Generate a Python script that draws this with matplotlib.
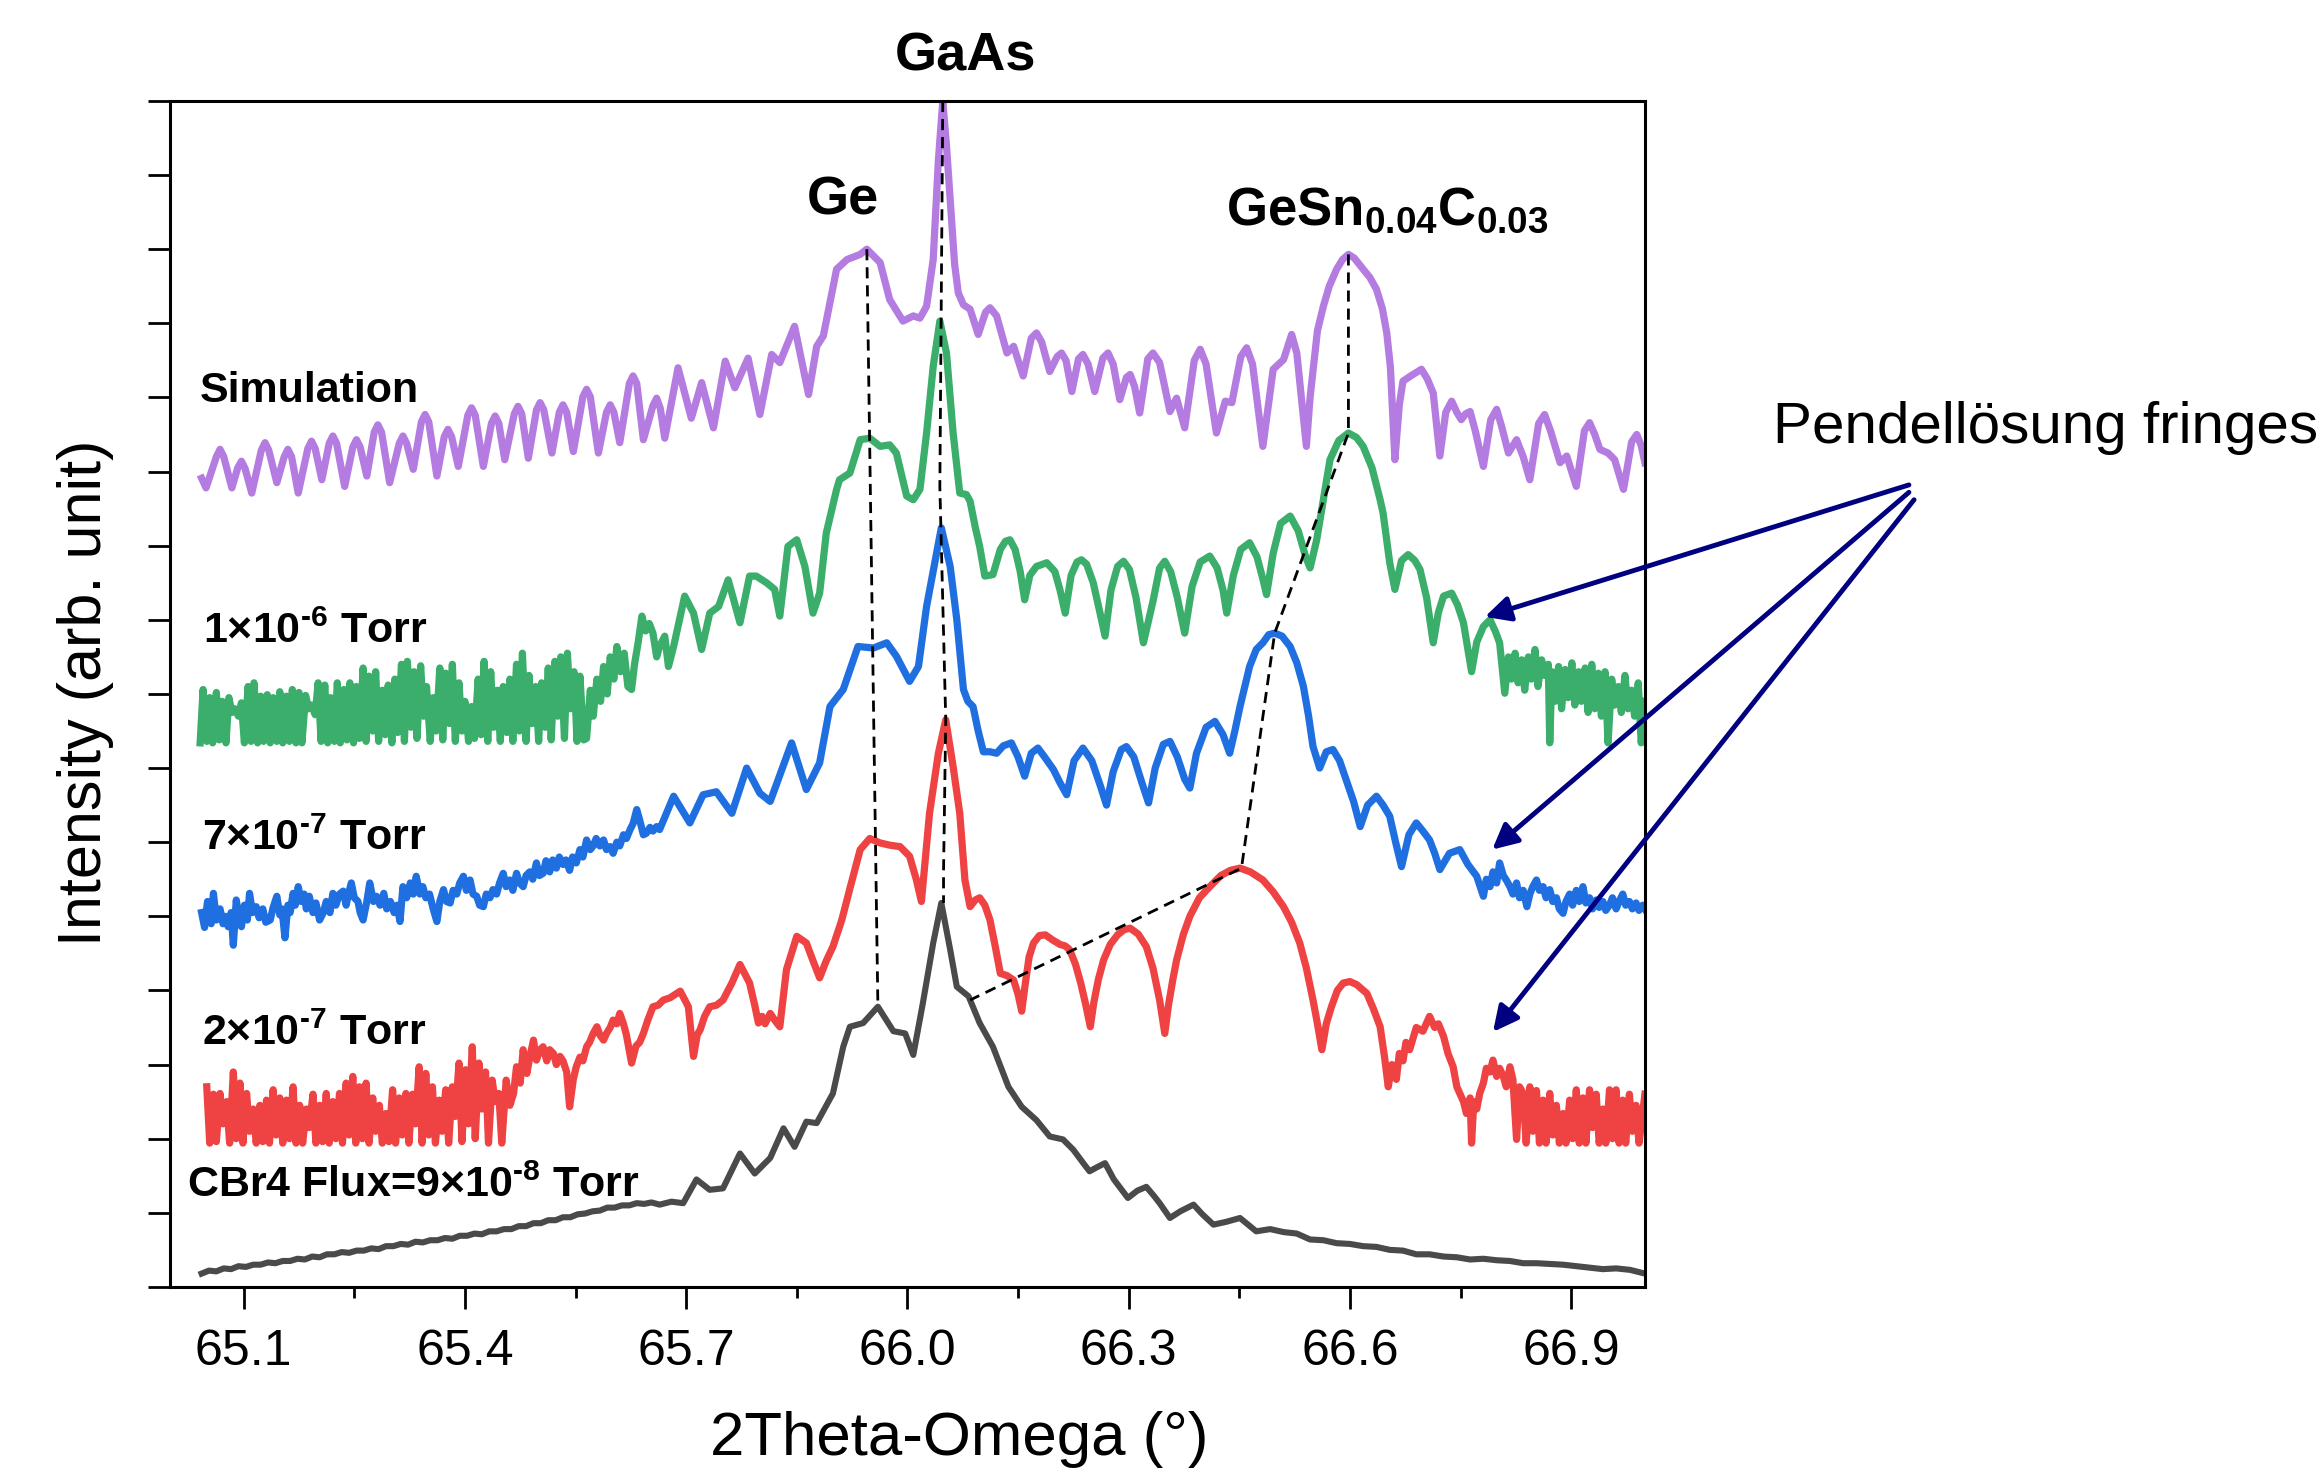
import matplotlib
matplotlib.use("Agg")
import matplotlib.pyplot as plt

plt.rcParams['font.family'] = ['Liberation Sans', 'DejaVu Sans']
plt.rcParams['mathtext.fontset'] = 'custom'
plt.rcParams['mathtext.rm'] = 'Liberation Sans'
plt.rcParams['mathtext.bf'] = 'Liberation Sans:bold'
plt.rcParams['mathtext.it'] = 'Liberation Sans:italic'

# simulation curve (purple)
sim_x = [65.043, 65.049, 65.063, 65.068, 65.073, 65.084, 65.092, 65.097, 65.102, 65.111,
         65.124, 65.129, 65.134, 65.145, 65.155, 65.160, 65.165, 65.174, 65.187, 65.192,
         65.197, 65.206, 65.216, 65.221, 65.226, 65.237, 65.248, 65.253, 65.258, 65.267,
         65.277, 65.282, 65.287, 65.298, 65.311, 65.316, 65.321, 65.330, 65.341, 65.346,
         65.351, 65.362, 65.372, 65.377, 65.382, 65.391, 65.404, 65.409, 65.414, 65.425,
         65.436, 65.441, 65.446, 65.454, 65.467, 65.472, 65.477, 65.486, 65.497, 65.502,
         65.507, 65.518, 65.528, 65.533, 65.538, 65.547, 65.560, 65.565, 65.570, 65.581,
         65.592, 65.597, 65.602, 65.610, 65.623, 65.628, 65.633, 65.642, 65.655, 65.660,
         65.665, 65.671, 65.689, 65.707, 65.721, 65.737, 65.753, 65.766, 65.784, 65.800,
         65.816, 65.827, 65.847, 65.866, 65.877, 65.886, 65.904, 65.918, 65.936, 65.945,
         65.963, 65.976, 65.994, 66.008, 66.017, 66.026, 66.035, 66.042, 66.048, 66.053,
         66.058, 66.064, 66.069, 66.076, 66.085, 66.096, 66.106, 66.112, 66.121, 66.135,
         66.144, 66.157, 66.168, 66.175, 66.182, 66.193, 66.203, 66.209, 66.215, 66.223,
         66.232, 66.238, 66.245, 66.254, 66.265, 66.272, 66.279, 66.288, 66.297, 66.302,
         66.308, 66.315, 66.326, 66.333, 66.342, 66.356, 66.365, 66.376, 66.389, 66.397,
         66.405, 66.419, 66.431, 66.440, 66.452, 66.460, 66.468, 66.482, 66.496, 66.510,
         66.521, 66.528, 66.541, 66.546, 66.556, 66.564, 66.572, 66.582, 66.590, 66.598,
         66.606, 66.618, 66.627, 66.636, 66.644, 66.650, 66.655, 66.661, 66.667, 66.672,
         66.684, 66.697, 66.705, 66.713, 66.722, 66.730, 66.738, 66.745, 66.751, 66.757,
         66.763, 66.770, 66.781, 66.791, 66.799, 66.806, 66.815, 66.826, 66.835, 66.844,
         66.856, 66.864, 66.872, 66.885, 66.894, 66.907, 66.918, 66.925, 66.932, 66.939,
         66.950, 66.959, 66.971, 66.982, 66.989, 66.995, 67.000]
sim_y = [10.91, 10.78, 11.20, 11.30, 11.20, 10.78, 11.05, 11.14, 11.04, 10.71,
         11.29, 11.39, 11.29, 10.85, 11.20, 11.30, 11.20, 10.71, 11.31, 11.41,
         11.31, 10.89, 11.38, 11.48, 11.38, 10.80, 11.33, 11.43, 11.33, 10.94,
         11.53, 11.63, 11.53, 10.85, 11.38, 11.48, 11.38, 11.03, 11.67, 11.77,
         11.67, 10.94, 11.47, 11.57, 11.47, 11.07, 11.76, 11.86, 11.76, 11.07,
         11.65, 11.75, 11.65, 11.16, 11.78, 11.88, 11.78, 11.18, 11.83, 11.93,
         11.83, 11.25, 11.80, 11.90, 11.80, 11.27, 12.01, 12.11, 12.01, 11.25,
         11.80, 11.90, 11.80, 11.39, 12.19, 12.29, 12.19, 11.43, 11.89, 11.99,
         11.85, 11.45, 12.40, 11.72, 12.20, 11.59, 12.49, 12.13, 12.53, 11.77,
         12.58, 12.47, 12.96, 12.04, 12.69, 12.83, 13.73, 13.86, 13.93, 14.00,
         13.82, 13.32, 13.03, 13.10, 13.07, 13.23, 13.86, 15.20, 16.00, 15.40,
         14.67, 13.80, 13.41, 13.25, 13.19, 12.85, 13.15, 13.21, 13.10, 12.60,
         12.69, 12.29, 12.80, 12.87, 12.75, 12.35, 12.55, 12.60, 12.50, 12.08,
         12.52, 12.58, 12.45, 12.08, 12.53, 12.60, 12.45, 11.97, 12.27, 12.31,
         12.15, 11.79, 12.52, 12.60, 12.47, 11.81, 11.99, 11.59, 12.50, 12.65,
         12.45, 11.52, 11.95, 11.93, 12.55, 12.67, 12.45, 11.34, 12.38, 12.51,
         12.85, 12.60, 11.34, 12.00, 12.90, 13.23, 13.50, 13.73, 13.86, 13.93,
         13.88, 13.73, 13.62, 13.46, 13.20, 12.87, 12.40, 11.16, 11.90, 12.22,
         12.30, 12.38, 12.25, 12.06, 11.21, 11.80, 11.95, 11.80, 11.70, 11.78,
         11.81, 11.55, 11.07, 11.70, 11.84, 11.60, 11.25, 11.43, 11.20, 10.89,
         11.65, 11.77, 11.55, 11.12, 11.21, 10.80, 11.55, 11.66, 11.50, 11.30,
         11.25, 11.16, 10.76, 11.40, 11.50, 11.35, 11.12]

# 1x10^-6 Torr (green)
g6_x = [65.041, 65.045, 65.050, 65.054, 65.058, 65.063, 65.067, 65.071, 65.076, 65.080,
        65.084, 65.088, 65.093, 65.097, 65.101, 65.106, 65.110, 65.114, 65.119, 65.123,
        65.127, 65.132, 65.136, 65.140, 65.145, 65.149, 65.153, 65.158, 65.162, 65.166,
        65.171, 65.175, 65.179, 65.184, 65.188, 65.192, 65.197, 65.201, 65.205, 65.210,
        65.214, 65.218, 65.223, 65.227, 65.231, 65.236, 65.240, 65.244, 65.249, 65.253,
        65.257, 65.262, 65.266, 65.270, 65.275, 65.279, 65.283, 65.288, 65.292, 65.296,
        65.301, 65.305, 65.309, 65.314, 65.318, 65.322, 65.327, 65.331, 65.335, 65.340,
        65.344, 65.348, 65.353, 65.357, 65.361, 65.366, 65.370, 65.374, 65.379, 65.383,
        65.387, 65.392, 65.396, 65.400, 65.405, 65.409, 65.413, 65.418, 65.422, 65.426,
        65.431, 65.435, 65.439, 65.444, 65.448, 65.452, 65.457, 65.461, 65.465, 65.470,
        65.474, 65.478, 65.483, 65.487, 65.491, 65.496, 65.500, 65.504, 65.509, 65.513,
        65.517, 65.522, 65.526, 65.530, 65.535, 65.539, 65.543, 65.548, 65.552, 65.556,
        65.561, 65.565, 65.570, 65.574, 65.579, 65.584, 65.588, 65.593, 65.597, 65.602,
        65.606, 65.611, 65.616, 65.621, 65.626, 65.630, 65.635, 65.640, 65.645, 65.650,
        65.655, 65.660, 65.664, 65.671, 65.676, 65.683, 65.698, 65.710, 65.721, 65.732,
        65.744, 65.757, 65.773, 65.786, 65.795, 65.809, 65.820, 65.827, 65.838, 65.850,
        65.861, 65.872, 65.881, 65.890, 65.904, 65.908, 65.922, 65.936, 65.949, 65.963,
        65.976, 65.985, 65.999, 66.008, 66.017, 66.026, 66.035, 66.044, 66.053, 66.062,
        66.071, 66.080, 66.085, 66.092, 66.098, 66.105, 66.116, 66.126, 66.133, 66.139,
        66.146, 66.153, 66.159, 66.166, 66.175, 66.189, 66.200, 66.207, 66.214, 66.222,
        66.230, 66.236, 66.243, 66.252, 66.261, 66.268, 66.276, 66.285, 66.293, 66.301,
        66.310, 66.320, 66.333, 66.342, 66.349, 66.357, 66.366, 66.376, 66.386, 66.397,
        66.410, 66.420, 66.428, 66.433, 66.442, 66.452, 66.464, 66.474, 66.482, 66.487,
        66.496, 66.506, 66.519, 66.530, 66.540, 66.546, 66.555, 66.564, 66.573, 66.585,
        66.598, 66.609, 66.618, 66.630, 66.641, 66.645, 66.654, 66.661, 66.670, 66.679,
        66.688, 66.695, 66.704, 66.713, 66.720, 66.727, 66.738, 66.746, 66.754, 66.760,
        66.765, 66.772, 66.781, 66.790, 66.797, 66.803, 66.810, 66.815, 66.819, 66.824,
        66.828, 66.833, 66.837, 66.842, 66.846, 66.851, 66.855, 66.860, 66.864, 66.869,
        66.871, 66.874, 66.878, 66.883, 66.887, 66.892, 66.896, 66.901, 66.905, 66.910,
        66.914, 66.919, 66.923, 66.928, 66.932, 66.937, 66.941, 66.946, 66.950, 66.955,
        66.959, 66.964, 66.968, 66.973, 66.977, 66.982, 66.986, 66.991, 66.995, 67.000]
g6_y = [7.34, 8.06, 7.36, 7.95, 7.34, 8.02, 7.38, 7.90, 7.34, 7.95,
        7.75, 7.80, 7.70, 7.88, 7.34, 8.10, 7.36, 8.15, 7.34, 7.97,
        7.36, 7.99, 7.34, 7.95, 7.36, 8.03, 7.34, 7.97, 7.36, 8.06,
        7.34, 8.02, 7.34, 7.98, 7.80, 7.85, 7.72, 8.15, 7.36, 8.12,
        7.34, 7.95, 7.36, 8.15, 7.34, 8.06, 7.38, 8.15, 7.34, 8.10,
        7.40, 8.35, 7.36, 8.24, 7.50, 8.30, 7.36, 8.05, 7.45, 8.12,
        7.34, 8.20, 7.48, 8.40, 7.36, 8.44, 7.55, 8.30, 7.40, 8.38,
        7.70, 8.10, 7.36, 7.95, 7.50, 8.35, 7.38, 8.28, 7.60, 8.40,
        7.36, 8.15, 7.50, 7.90, 7.36, 7.83, 7.40, 8.20, 7.45, 8.44,
        7.36, 8.30, 7.55, 8.05, 7.36, 8.10, 7.48, 8.20, 7.36, 8.40,
        7.50, 8.55, 7.36, 8.25, 7.60, 8.10, 7.36, 8.15, 7.55, 8.35,
        7.38, 8.44, 7.70, 8.50, 7.40, 8.55, 7.80, 8.30, 7.36, 8.24,
        7.38, 7.40, 8.05, 7.70, 8.20, 7.90, 8.37, 8.00, 8.50, 8.20,
        8.64, 8.30, 8.55, 8.10, 8.06, 8.40, 8.70, 9.05, 8.85, 8.95,
        8.82, 8.50, 8.64, 8.78, 8.37, 8.64, 9.32, 9.09, 8.60, 9.09,
        9.18, 9.54, 8.96, 9.59, 9.59, 9.50, 9.41, 9.05, 9.99, 10.08,
        9.72, 9.09, 9.36, 10.17, 10.76, 10.89, 10.98, 11.43, 11.45, 11.34,
        11.36, 11.25, 10.67, 10.62, 10.76, 11.52, 12.42, 13.03, 12.60, 11.52,
        10.71, 10.69, 10.60, 10.25, 9.99, 9.59, 9.61, 9.95, 10.06, 10.08,
        9.95, 9.65, 9.27, 9.60, 9.72, 9.77, 9.65, 9.40, 9.09, 9.60,
        9.78, 9.81, 9.75, 9.50, 9.10, 8.78, 9.40, 9.72, 9.79, 9.68,
        9.30, 8.69, 9.25, 9.70, 9.79, 9.65, 9.30, 8.82, 9.45, 9.78,
        9.86, 9.70, 9.40, 9.09, 9.60, 9.95, 10.04, 9.85, 9.55, 9.34,
        9.90, 10.30, 10.40, 10.20, 9.85, 9.70, 10.08, 10.62, 11.16, 11.42,
        11.52, 11.46, 11.34, 11.05, 10.62, 10.44, 9.77, 9.41, 9.80, 9.88,
        9.80, 9.68, 9.30, 8.69, 9.10, 9.32, 9.36, 9.20, 8.96, 8.60,
        8.30, 8.70, 8.91, 9.00, 8.85, 8.69, 8.01, 8.50, 8.20, 8.55,
        8.15, 8.46, 8.05, 8.50, 8.20, 8.60, 8.10, 8.46, 8.25, 8.40,
        7.34, 8.30, 7.90, 8.37, 7.80, 8.33, 7.95, 8.42, 7.85, 8.30,
        7.90, 8.35, 7.75, 8.40, 7.80, 8.28, 7.70, 8.30, 7.34, 8.20,
        7.85, 8.10, 7.75, 8.25, 7.80, 8.05, 7.70, 8.15, 7.34, 7.90]

# 7x10^-7 Torr (blue)
b7_x = [65.043, 65.047, 65.051, 65.056, 65.059, 65.063, 65.068, 65.072, 65.075, 65.079,
        65.083, 65.086, 65.090, 65.094, 65.097, 65.101, 65.105, 65.108, 65.112, 65.117,
        65.121, 65.126, 65.130, 65.136, 65.140, 65.145, 65.149, 65.152, 65.156, 65.160,
        65.163, 65.167, 65.170, 65.174, 65.178, 65.182, 65.185, 65.189, 65.194, 65.198,
        65.203, 65.208, 65.212, 65.217, 65.221, 65.225, 65.230, 65.235, 65.239, 65.242,
        65.246, 65.250, 65.255, 65.258, 65.262, 65.267, 65.271, 65.276, 65.280, 65.285,
        65.290, 65.294, 65.299, 65.304, 65.308, 65.312, 65.316, 65.321, 65.326, 65.330,
        65.334, 65.339, 65.343, 65.347, 65.352, 65.357, 65.362, 65.366, 65.371, 65.375,
        65.380, 65.384, 65.389, 65.393, 65.398, 65.402, 65.407, 65.411, 65.416, 65.420,
        65.425, 65.429, 65.434, 65.438, 65.443, 65.447, 65.452, 65.456, 65.461, 65.465,
        65.470, 65.474, 65.479, 65.483, 65.488, 65.492, 65.497, 65.501, 65.506, 65.510,
        65.515, 65.519, 65.524, 65.528, 65.533, 65.537, 65.542, 65.546, 65.551, 65.556,
        65.560, 65.565, 65.570, 65.574, 65.578, 65.583, 65.588, 65.592, 65.597, 65.601,
        65.606, 65.610, 65.615, 65.619, 65.624, 65.628, 65.633, 65.637, 65.642, 65.646,
        65.651, 65.655, 65.660, 65.664, 65.683, 65.705, 65.723, 65.741, 65.762, 65.782,
        65.800, 65.814, 65.843, 65.863, 65.881, 65.895, 65.913, 65.933, 65.954, 65.972,
        65.985, 66.003, 66.015, 66.026, 66.046, 66.058, 66.067, 66.076, 66.082, 66.089,
        66.096, 66.103, 66.112, 66.121, 66.130, 66.141, 66.150, 66.159, 66.168, 66.177,
        66.186, 66.198, 66.207, 66.216, 66.226, 66.238, 66.250, 66.262, 66.270, 66.279,
        66.290, 66.297, 66.307, 66.318, 66.327, 66.336, 66.347, 66.356, 66.366, 66.376,
        66.383, 66.392, 66.405, 66.417, 66.428, 66.437, 66.444, 66.451, 66.464, 66.473,
        66.482, 66.490, 66.498, 66.508, 66.519, 66.528, 66.537, 66.544, 66.550, 66.559,
        66.568, 66.577, 66.586, 66.595, 66.605, 66.614, 66.624, 66.636, 66.645, 66.654,
        66.662, 66.670, 66.680, 66.690, 66.699, 66.708, 66.715, 66.722, 66.735, 66.749,
        66.760, 66.772, 66.781, 66.785, 66.790, 66.794, 66.799, 66.803, 66.808, 66.812,
        66.817, 66.821, 66.826, 66.830, 66.835, 66.840, 66.844, 66.848, 66.853, 66.857,
        66.862, 66.866, 66.871, 66.875, 66.880, 66.884, 66.889, 66.893, 66.898, 66.902,
        66.907, 66.911, 66.916, 66.920, 66.925, 66.929, 66.934, 66.938, 66.943, 66.947,
        66.952, 66.956, 66.961, 66.965, 66.970, 66.974, 66.979, 66.983, 66.988, 66.992,
        66.997, 67.000]
b7_y = [5.05, 4.85, 5.20, 4.90, 5.31, 4.95, 5.10, 4.90, 5.00, 4.86,
        5.05, 4.61, 5.22, 4.95, 4.86, 5.15, 4.95, 5.31, 5.05, 5.13,
        4.98, 5.10, 4.92, 4.95, 5.12, 5.27, 5.02, 5.10, 4.71, 5.15,
        5.05, 5.31, 5.15, 5.40, 5.20, 5.30, 5.10, 5.27, 5.05, 5.18,
        4.95, 5.05, 5.20, 5.05, 5.31, 5.15, 5.30, 5.34, 5.15, 5.30,
        5.45, 5.25, 5.20, 5.05, 4.95, 5.20, 5.45, 5.20, 5.27, 5.15,
        5.31, 5.10, 5.20, 5.05, 5.15, 4.93, 5.40, 5.25, 5.45, 5.30,
        5.54, 5.30, 5.40, 5.25, 5.30, 5.10, 4.93, 5.20, 5.36, 5.20,
        5.18, 5.35, 5.30, 5.45, 5.54, 5.35, 5.49, 5.30, 5.27, 5.15,
        5.13, 5.30, 5.25, 5.36, 5.30, 5.45, 5.58, 5.40, 5.49, 5.35,
        5.58, 5.45, 5.40, 5.55, 5.60, 5.50, 5.72, 5.55, 5.58, 5.75,
        5.60, 5.76, 5.65, 5.80, 5.70, 5.76, 5.62, 5.80, 5.72, 5.90,
        5.80, 6.03, 5.90, 5.95, 6.05, 5.95, 6.03, 5.90, 5.94, 5.85,
        6.00, 5.95, 6.10, 6.05, 6.17, 6.25, 6.44, 6.30, 6.10, 6.12,
        6.20, 6.15, 6.21, 6.17, 6.62, 6.26, 6.64, 6.68, 6.39, 7.00,
        6.66, 6.55, 7.34, 6.71, 7.07, 7.83, 8.06, 8.64, 8.62, 8.69,
        8.51, 8.17, 8.37, 9.18, 10.24, 9.72, 9.00, 8.06, 7.90, 7.83,
        7.50, 7.22, 7.22, 7.20, 7.30, 7.34, 7.15, 6.89, 7.20, 7.27,
        7.15, 6.98, 6.80, 6.64, 7.10, 7.27, 7.10, 6.75, 6.50, 6.95,
        7.25, 7.29, 7.15, 6.80, 6.53, 7.00, 7.32, 7.36, 7.15, 6.85,
        6.73, 7.20, 7.55, 7.63, 7.45, 7.20, 7.50, 7.83, 8.37, 8.60,
        8.69, 8.80, 8.82, 8.78, 8.64, 8.42, 8.10, 7.70, 7.29, 7.00,
        7.22, 7.25, 7.10, 6.84, 6.55, 6.21, 6.50, 6.62, 6.50, 6.35,
        6.00, 5.67, 6.10, 6.26, 6.15, 6.03, 5.85, 5.63, 5.85, 5.90,
        5.70, 5.54, 5.27, 5.50, 5.40, 5.60, 5.45, 5.72, 5.55, 5.49,
        5.40, 5.30, 5.45, 5.25, 5.35, 5.13, 5.30, 5.40, 5.49, 5.35,
        5.40, 5.25, 5.36, 5.20, 5.25, 5.10, 5.04, 5.20, 5.30, 5.15,
        5.35, 5.20, 5.40, 5.18, 5.25, 5.10, 5.22, 5.12, 5.20, 5.08,
        5.15, 5.25, 5.10, 5.20, 5.30, 5.15, 5.20, 5.10, 5.18, 5.08,
        5.15, 5.10]

# 2x10^-7 Torr (red)
r2_x = [65.050, 65.054, 65.059, 65.063, 65.068, 65.072, 65.077, 65.081, 65.086, 65.090,
        65.095, 65.099, 65.104, 65.108, 65.113, 65.117, 65.122, 65.126, 65.131, 65.135,
        65.140, 65.144, 65.149, 65.153, 65.158, 65.162, 65.167, 65.171, 65.176, 65.180,
        65.185, 65.189, 65.194, 65.198, 65.203, 65.207, 65.212, 65.216, 65.221, 65.225,
        65.230, 65.234, 65.239, 65.243, 65.248, 65.252, 65.257, 65.261, 65.266, 65.270,
        65.275, 65.279, 65.284, 65.288, 65.293, 65.297, 65.302, 65.306, 65.311, 65.315,
        65.320, 65.324, 65.329, 65.333, 65.338, 65.342, 65.347, 65.351, 65.356, 65.360,
        65.365, 65.369, 65.374, 65.378, 65.383, 65.387, 65.392, 65.396, 65.401, 65.405,
        65.410, 65.414, 65.419, 65.423, 65.428, 65.432, 65.437, 65.441, 65.446, 65.450,
        65.456, 65.461, 65.466, 65.470, 65.475, 65.479, 65.484, 65.488, 65.493, 65.497,
        65.502, 65.506, 65.511, 65.515, 65.520, 65.524, 65.529, 65.533, 65.538, 65.542,
        65.547, 65.551, 65.556, 65.560, 65.565, 65.569, 65.574, 65.579, 65.583, 65.588,
        65.592, 65.597, 65.601, 65.606, 65.610, 65.615, 65.619, 65.626, 65.632, 65.637,
        65.642, 65.648, 65.655, 65.662, 65.669, 65.678, 65.692, 65.703, 65.710, 65.715,
        65.719, 65.725, 65.732, 65.741, 65.750, 65.762, 65.773, 65.786, 65.793, 65.798,
        65.803, 65.807, 65.814, 65.820, 65.827, 65.836, 65.850, 65.863, 65.872, 65.881,
        65.890, 65.899, 65.911, 65.924, 65.936, 65.949, 65.963, 65.976, 65.990, 66.003,
        66.012, 66.019, 66.030, 66.042, 66.052, 66.062, 66.071, 66.078, 66.085, 66.092,
        66.098, 66.105, 66.112, 66.119, 66.126, 66.135, 66.144, 66.150, 66.155, 66.160,
        66.165, 66.171, 66.179, 66.187, 66.197, 66.207, 66.214, 66.220, 66.228, 66.235,
        66.242, 66.248, 66.253, 66.259, 66.266, 66.275, 66.285, 66.294, 66.302, 66.313,
        66.324, 66.333, 66.342, 66.349, 66.354, 66.360, 66.365, 66.374, 66.383, 66.396,
        66.410, 66.425, 66.438, 66.451, 66.465, 66.482, 66.496, 66.510, 66.521, 66.532,
        66.541, 66.550, 66.556, 66.562, 66.568, 66.575, 66.583, 66.591, 66.600, 66.609,
        66.616, 66.623, 66.632, 66.641, 66.647, 66.652, 66.657, 66.663, 66.667, 66.672,
        66.676, 66.681, 66.690, 66.699, 66.708, 66.715, 66.720, 66.727, 66.733, 66.740,
        66.745, 66.749, 66.754, 66.758, 66.763, 66.765, 66.768, 66.772, 66.776, 66.781,
        66.785, 66.790, 66.794, 66.799, 66.803, 66.808, 66.812, 66.817, 66.821, 66.826,
        66.830, 66.835, 66.839, 66.844, 66.848, 66.853, 66.857, 66.862, 66.866, 66.871,
        66.875, 66.880, 66.884, 66.889, 66.893, 66.898, 66.902, 66.907, 66.911, 66.916,
        66.920, 66.925, 66.929, 66.934, 66.938, 66.943, 66.947, 66.952, 66.956, 66.961,
        66.965, 66.970, 66.974, 66.979, 66.983, 66.988, 66.992, 66.997, 67.000]
r2_y = [2.70, 1.94, 2.60, 1.96, 2.61, 2.20, 2.50, 1.94, 2.90, 2.00,
        2.75, 1.94, 2.61, 2.10, 2.40, 1.94, 2.45, 1.96, 2.52, 1.94,
        2.66, 2.05, 2.55, 1.94, 2.52, 2.00, 2.70, 1.94, 2.45, 1.94,
        2.40, 2.15, 2.60, 1.94, 2.45, 1.96, 2.61, 1.94, 2.50, 2.00,
        2.61, 1.94, 2.75, 2.05, 2.84, 1.94, 2.70, 2.00, 2.75, 1.94,
        2.55, 2.10, 2.45, 1.94, 2.34, 1.96, 2.66, 1.94, 2.55, 2.05,
        2.61, 1.94, 2.60, 2.20, 2.97, 1.94, 2.88, 2.05, 2.70, 1.94,
        2.52, 2.10, 2.66, 1.94, 2.70, 2.30, 3.02, 1.96, 2.93, 2.20,
        3.24, 2.00, 3.02, 2.40, 2.90, 1.94, 2.79, 2.50, 2.61, 1.94,
        2.79, 2.45, 2.61, 2.97, 2.75, 3.20, 2.88, 3.10, 3.33, 3.06,
        3.20, 3.24, 3.05, 3.20, 3.15, 3.00, 3.11, 3.05, 2.90, 2.43,
        2.80, 2.97, 3.10, 3.05, 3.24, 3.30, 3.42, 3.51, 3.40, 3.33,
        3.42, 3.50, 3.60, 3.55, 3.69, 3.55, 3.40, 3.02, 3.25, 3.30,
        3.42, 3.60, 3.78, 3.80, 3.87, 3.90, 3.99, 3.78, 3.11, 3.40,
        3.47, 3.65, 3.78, 3.80, 3.87, 4.10, 4.35, 4.10, 3.80, 3.56,
        3.65, 3.55, 3.69, 3.60, 3.51, 4.28, 4.73, 4.64, 4.40, 4.17,
        4.40, 4.59, 4.95, 5.45, 5.90, 6.05, 5.99, 5.96, 5.94, 5.81,
        5.50, 5.20, 6.39, 7.20, 7.65, 7.02, 6.39, 5.49, 5.13, 5.22,
        5.25, 5.15, 4.95, 4.60, 4.23, 4.20, 4.14, 3.95, 3.72, 4.10,
        4.45, 4.64, 4.74, 4.75, 4.68, 4.62, 4.60, 4.55, 4.35, 4.10,
        3.80, 3.51, 3.85, 4.15, 4.41, 4.62, 4.75, 4.82, 4.84, 4.76,
        4.59, 4.30, 3.87, 3.42, 3.80, 4.15, 4.41, 4.75, 5.00, 5.25,
        5.40, 5.55, 5.62, 5.65, 5.60, 5.49, 5.33, 5.13, 4.92, 4.64,
        4.30, 3.87, 3.55, 3.20, 3.55, 3.78, 4.00, 4.10, 4.12, 4.08,
        4.02, 3.96, 3.75, 3.51, 3.10, 2.70, 3.00, 2.80, 3.15, 3.05,
        3.30, 3.20, 3.50, 3.45, 3.65, 3.50, 3.55, 3.38, 3.15, 2.97,
        2.70, 2.61, 2.50, 2.34, 2.55, 1.94, 2.50, 2.40, 2.61, 2.75,
        2.95, 2.90, 3.06, 2.84, 2.95, 2.84, 2.70, 2.97, 2.80, 1.99,
        2.70, 2.61, 1.94, 2.70, 2.10, 2.65, 1.94, 2.52, 1.94, 2.61,
        2.05, 2.45, 1.94, 2.34, 1.94, 2.52, 2.00, 2.66, 1.94, 2.55,
        1.94, 2.66, 2.15, 2.60, 1.94, 2.40, 1.94, 2.66, 2.00, 2.66,
        1.94, 2.52, 1.94, 2.60, 2.10, 2.45, 1.94, 2.34, 2.60]

# CBr4 flux 9x10^-8 Torr (dark grey)
c8_x = [65.043, 65.053, 65.063, 65.073, 65.083, 65.093, 65.103, 65.113, 65.123, 65.133,
        65.143, 65.153, 65.163, 65.173, 65.183, 65.193, 65.203, 65.213, 65.223, 65.233,
        65.243, 65.253, 65.263, 65.273, 65.283, 65.293, 65.303, 65.313, 65.323, 65.333,
        65.343, 65.353, 65.363, 65.373, 65.383, 65.393, 65.403, 65.413, 65.423, 65.433,
        65.443, 65.453, 65.463, 65.473, 65.483, 65.493, 65.503, 65.513, 65.523, 65.533,
        65.543, 65.553, 65.563, 65.573, 65.583, 65.593, 65.603, 65.613, 65.623, 65.633,
        65.643, 65.653, 65.664, 65.680, 65.696, 65.714, 65.732, 65.750, 65.773, 65.793,
        65.814, 65.832, 65.847, 65.863, 65.877, 65.899, 65.913, 65.922, 65.940, 65.960,
        65.981, 65.997, 66.008, 66.021, 66.035, 66.046, 66.058, 66.067, 66.083, 66.098,
        66.116, 66.137, 66.155, 66.175, 66.193, 66.211, 66.225, 66.240, 66.247, 66.258,
        66.268, 66.280, 66.299, 66.312, 66.324, 66.335, 66.342, 66.356, 66.370, 66.388,
        66.400, 66.415, 66.433, 66.451, 66.462, 66.473, 66.492, 66.510, 66.528, 66.546,
        66.564, 66.582, 66.600, 66.618, 66.636, 66.654, 66.672, 66.690, 66.708, 66.727,
        66.745, 66.763, 66.781, 66.799, 66.817, 66.835, 66.853, 66.871, 66.889, 66.907,
        66.925, 66.943, 66.961, 66.980, 67.000]
c8_y = [0.18, 0.22, 0.21, 0.25, 0.24, 0.28, 0.27, 0.30, 0.30, 0.33,
        0.32, 0.35, 0.35, 0.38, 0.37, 0.41, 0.40, 0.44, 0.44, 0.47,
        0.46, 0.49, 0.49, 0.52, 0.51, 0.55, 0.55, 0.58, 0.57, 0.61,
        0.60, 0.63, 0.63, 0.66, 0.65, 0.69, 0.69, 0.72, 0.71, 0.75,
        0.75, 0.78, 0.78, 0.82, 0.82, 0.86, 0.86, 0.90, 0.90, 0.94,
        0.94, 0.98, 0.99, 1.02, 1.03, 1.07, 1.07, 1.10, 1.10, 1.13,
        1.12, 1.14, 1.11, 1.15, 1.13, 1.45, 1.31, 1.33, 1.80, 1.53,
        1.74, 2.14, 1.89, 2.23, 2.21, 2.61, 3.24, 3.51, 3.56, 3.78,
        3.45, 3.42, 3.13, 3.83, 4.64, 5.18, 4.55, 4.05, 3.92, 3.56,
        3.24, 2.70, 2.43, 2.25, 2.03, 1.99, 1.85, 1.65, 1.56, 1.62,
        1.67, 1.45, 1.20, 1.30, 1.35, 1.22, 1.13, 0.93, 1.02, 1.11,
        0.98, 0.84, 0.88, 0.93, 0.84, 0.75, 0.78, 0.74, 0.72, 0.64,
        0.63, 0.59, 0.58, 0.55, 0.54, 0.50, 0.49, 0.44, 0.44, 0.41,
        0.40, 0.37, 0.38, 0.36, 0.35, 0.32, 0.32, 0.31, 0.30, 0.28,
        0.26, 0.24, 0.25, 0.23, 0.18]

# dashed guide lines through the peaks
ge_line_x = [65.945, 65.960]
ge_line_y = [14.00, 3.78]
gaas_line_x = [66.048, 66.044, 66.052, 66.049, 66.049]
gaas_line_y = [16.00, 10.80, 7.65, 5.60, 5.18]
gesn_line_x = [66.598, 66.598, 66.498, 66.453, 66.085]
gesn_line_y = [13.93, 11.52, 8.82, 5.65, 3.87]

fig = plt.figure(figsize=(23.21, 14.76), dpi=100)
ax = fig.add_axes([0.0732, 0.1281, 0.6355, 0.8035])

lw = 5.2
ax.plot(c8_x, c8_y, color='#4a4a4a', lw=4.4)
ax.plot(r2_x, r2_y, color='#ef4242', lw=lw)
ax.plot(b7_x, b7_y, color='#1f6fe0', lw=lw)
ax.plot(g6_x, g6_y, color='#3aae6a', lw=lw)
ax.plot(sim_x, sim_y, color='#b47be0', lw=lw)

# guide lines on top of the curves
for lx, ly in [(ge_line_x, ge_line_y), (gaas_line_x, gaas_line_y), (gesn_line_x, gesn_line_y)]:
    ax.plot(lx, ly, color='black', lw=2.0, linestyle=(0, (4, 2.5)), zorder=5)

ax.set_xlim(65.0, 67.0)
ax.set_ylim(0, 16)
ax.set_xticks([65.1, 65.4, 65.7, 66.0, 66.3, 66.6, 66.9])
ax.set_xticklabels(['65.1', '65.4', '65.7', '66.0', '66.3', '66.6', '66.9'])
ax.set_xticks([65.25, 65.55, 65.85, 66.15, 66.45, 66.75], minor=True)
ax.set_yticks(range(0, 17))
ax.set_yticklabels([])
ax.tick_params(axis='x', which='major', direction='out', length=16, width=2, labelsize=36, pad=14)
ax.tick_params(axis='x', which='minor', direction='out', length=8, width=2)
ax.tick_params(axis='y', which='major', direction='out', length=16, width=2)
for s in ax.spines.values():
    s.set_linewidth(2.2)

fig.text(959 / 2321, 1 - 1440 / 1476, '2Theta-Omega (°)', fontsize=44.5, ha='center', va='center')
fig.text(86 / 2321, 1 - 693 / 1476, 'Intensity (arb. unit)', fontsize=44, ha='center', va='center',
         rotation=90)

# peak names
ax.text(66.079, 16.41, 'GaAs', fontsize=39, fontweight='bold', ha='center', va='baseline',
        clip_on=False)
ax.text(65.913, 14.47, 'Ge', fontsize=39, fontweight='bold', ha='center', va='baseline')
ax.text(66.651, 14.33, r'GeSn$_{\mathbf{0.04}}$C$_{\mathbf{0.03}}$', fontsize=38,
        fontweight='bold', ha='center', va='baseline')

# curve names
ax.text(65.041, 11.94, 'Simulation', fontsize=31, fontweight='bold', va='baseline')
ax.text(65.045, 8.69, r'1×10$^{\mathbf{‐6}}$ Torr', fontsize=31, fontweight='bold', va='baseline')
ax.text(65.043, 5.90, r'7×10$^{\mathbf{‐7}}$ Torr', fontsize=31, fontweight='bold', va='baseline')
ax.text(65.043, 3.27, r'2×10$^{\mathbf{‐7}}$ Torr', fontsize=31, fontweight='bold', va='baseline')
ax.text(65.023, 1.21, r'CBr4 Flux=9×10$^{\mathbf{‐8}}$ Torr', fontsize=31, fontweight='bold',
        va='baseline')

# fringe callout
ax.text(67.174, 11.59, 'Pendellösung fringes', fontsize=42, ha='left', va='center', clip_on=False)
arrow_tips = [(66.783, 9.04), (66.793, 5.90), (66.794, 3.44)]
arrow_tails = [(67.358, 10.82), (67.358, 10.72), (67.365, 10.62)]
for tip, tail in zip(arrow_tips, arrow_tails):
    ax.annotate('', xy=tip, xytext=tail, annotation_clip=False,
                arrowprops=dict(arrowstyle='-|>', color='#000080', lw=3.5,
                                mutation_scale=38, shrinkA=0, shrinkB=0))

fig.savefig('out.png', dpi=100)
